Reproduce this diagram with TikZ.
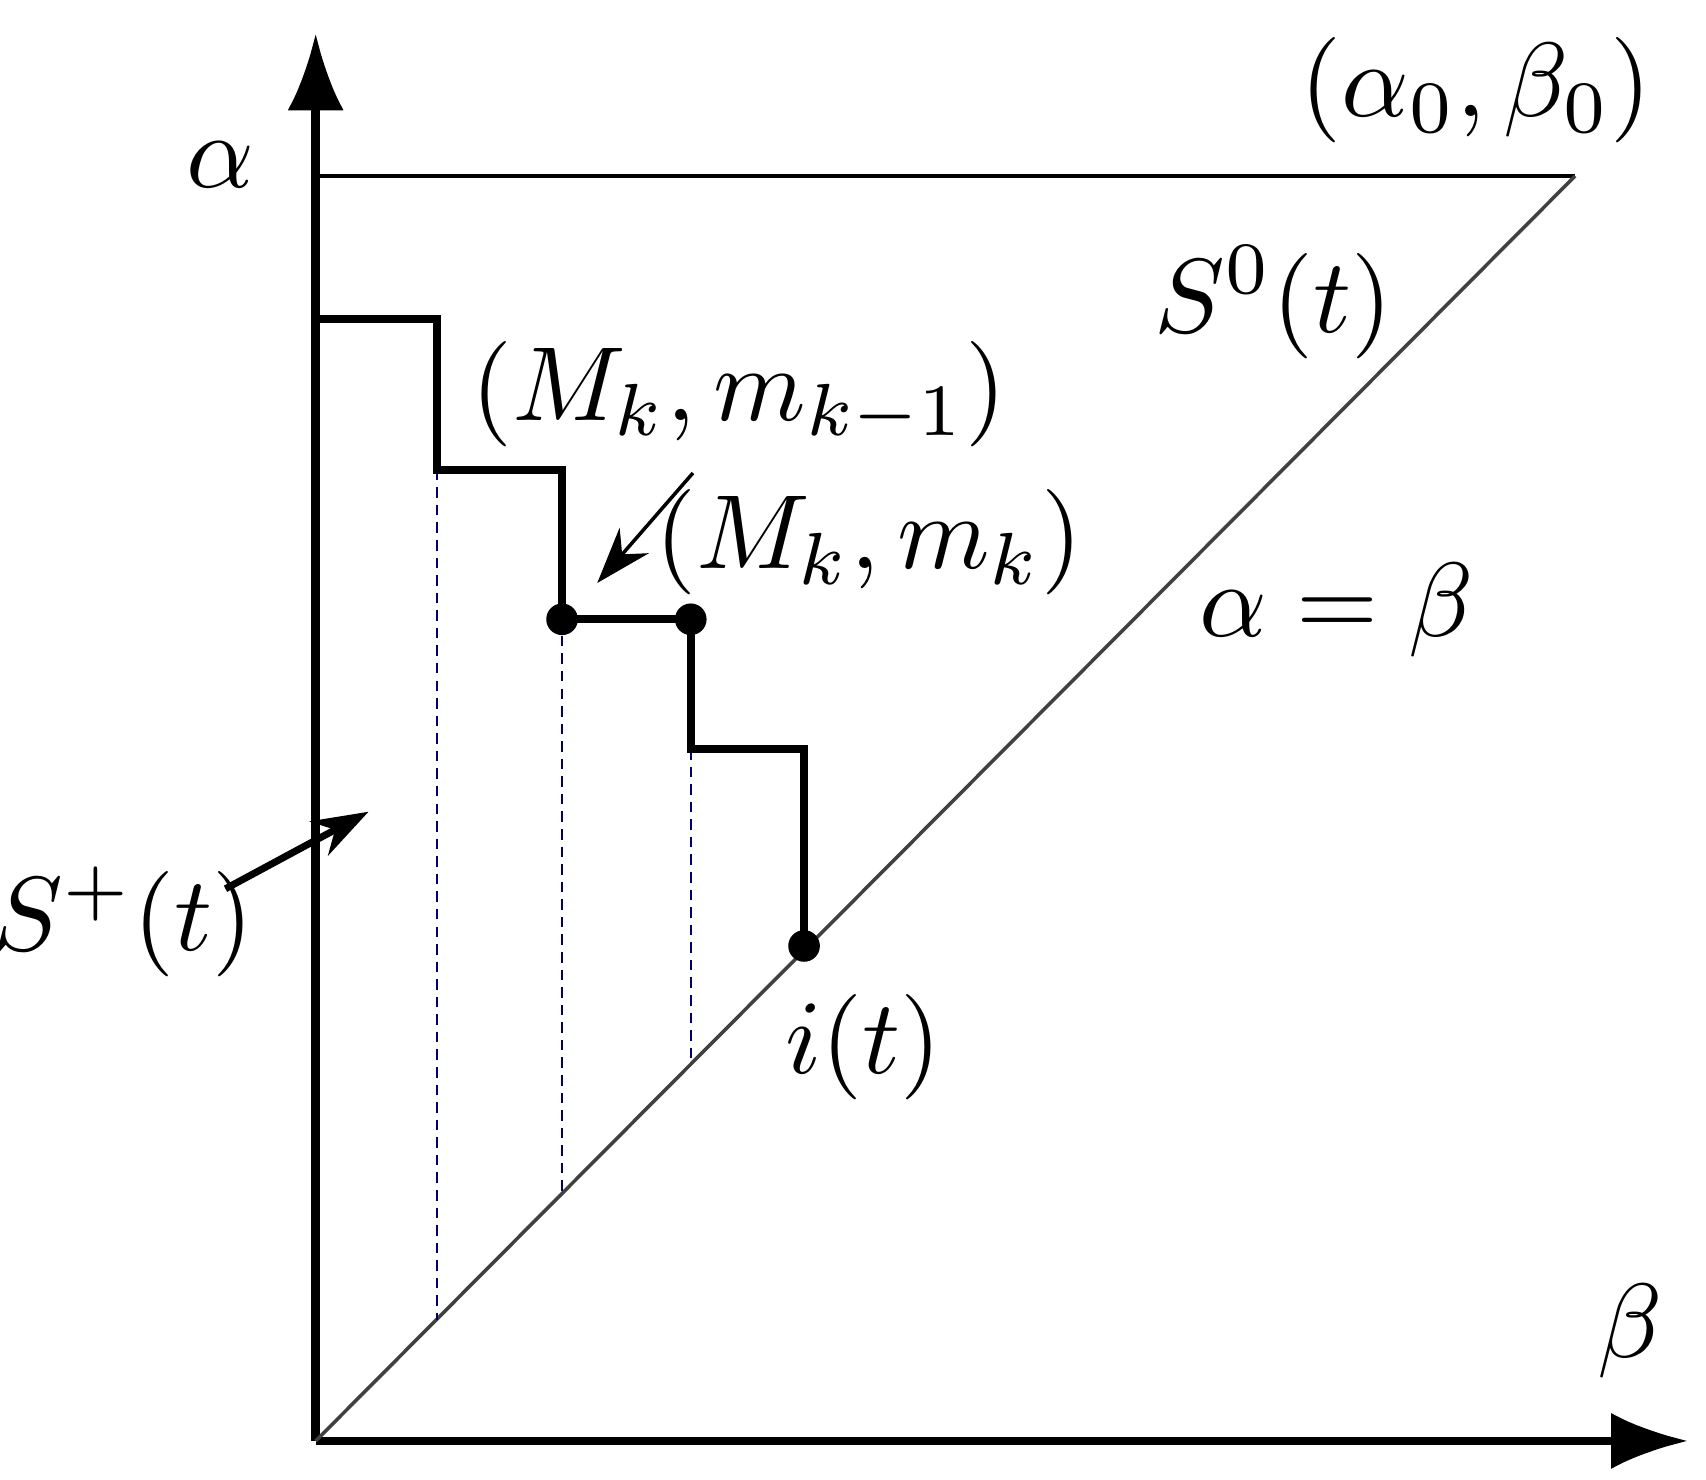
\documentclass[tikz,border=0pt]{standalone}
\usetikzlibrary{arrows.meta}
\newcommand{\bigtxt}[1]{\scalebox{3}{#1}}
\begin{document}
\begin{tikzpicture}[x=0.011cm,y=-0.011cm,
  lbl/.style={inner sep=0pt},
  stair/.style={line width=2.2pt},
  thin/.style={line width=1pt},
  guide/.style={densely dashed, draw=blue!40!black, line width=0.6pt},
  dot/.style={circle, fill, inner sep=0pt, minimum size=9pt},
  ptr/.style={-{Stealth[length=16pt,width=11pt]}, line width=1.4pt}]
\useasboundingbox (0,0) rectangle (1551,1345);
\coordinate (O) at (287,1310);
\coordinate (Ytop) at (287,30);
\coordinate (Xend) at (1535,1310);
\coordinate (A0) at (1432,160);
\coordinate (Atop) at (287,160);
\draw[line width=2.4pt, -{Latex[length=22pt,width=16pt]}] (O) -- (Ytop);
\draw[line width=2.4pt, -{Latex[length=22pt,width=16pt]}] (O) -- (Xend);
\draw[thin] (Atop) -- (A0);
\draw[thin, black!75] (O) -- (A0);
\coordinate (s0) at (287,290);
\coordinate (s1) at (397,290);
\coordinate (s2) at (397,427);
\coordinate (s3) at (511,427);
\coordinate (s5) at (628,681);
\coordinate (s6) at (731,681);
\node[dot] (p1) at (511,563) {};
\node[dot] (p2) at (628,563) {};
\node[dot] (p3) at (731,860) {};
\coordinate (d1) at (397,1200);
\coordinate (d2) at (511,1085);
\coordinate (d3) at (628,967);
\draw[guide] (s2) -- (d1);
\draw[guide] (p1) -- (d2);
\draw[guide] (s5) -- (d3);
\draw[stair] (s0) -- (s1) -- (s2) -- (s3) -- (p1.center) -- (p2.center) -- (s5) -- (s6) -- (p3.center);
\node[lbl] (la) at (200,150) {\bigtxt{$\alpha$}};
\node[lbl] (lab0) at (1342,82) {\bigtxt{$(\alpha_0,\beta_0)$}};
\node[lbl] (lS0) at (1158,275) {\bigtxt{$S^0(t)$}};
\node[lbl] (lMk1) at (672,358) {\bigtxt{$(M_k,m_{k-1})$}};
\node[lbl] (lMk) at (790,493) {\bigtxt{$(M_k,m_k)$}};
\node[lbl] (leq) at (1215,555) {\bigtxt{$\alpha=\beta$}};
\node[lbl] (lSp) at (112,838) {\bigtxt{$S^+(t)$}};
\node[lbl] (lit) at (785,952) {\bigtxt{$i(t)$}};
\node[lbl] (lb) at (1482,1210) {\bigtxt{$\beta$}};
\coordinate (a1s) at (630,430);
\coordinate (a1e) at (543,530);
\coordinate (a2s) at (205,808);
\coordinate (a2e) at (335,738);
\draw[ptr, line width=1pt] (a1s) -- (a1e);
\draw[ptr, line width=2pt] (a2s) -- (a2e);
\end{tikzpicture}
\end{document}
